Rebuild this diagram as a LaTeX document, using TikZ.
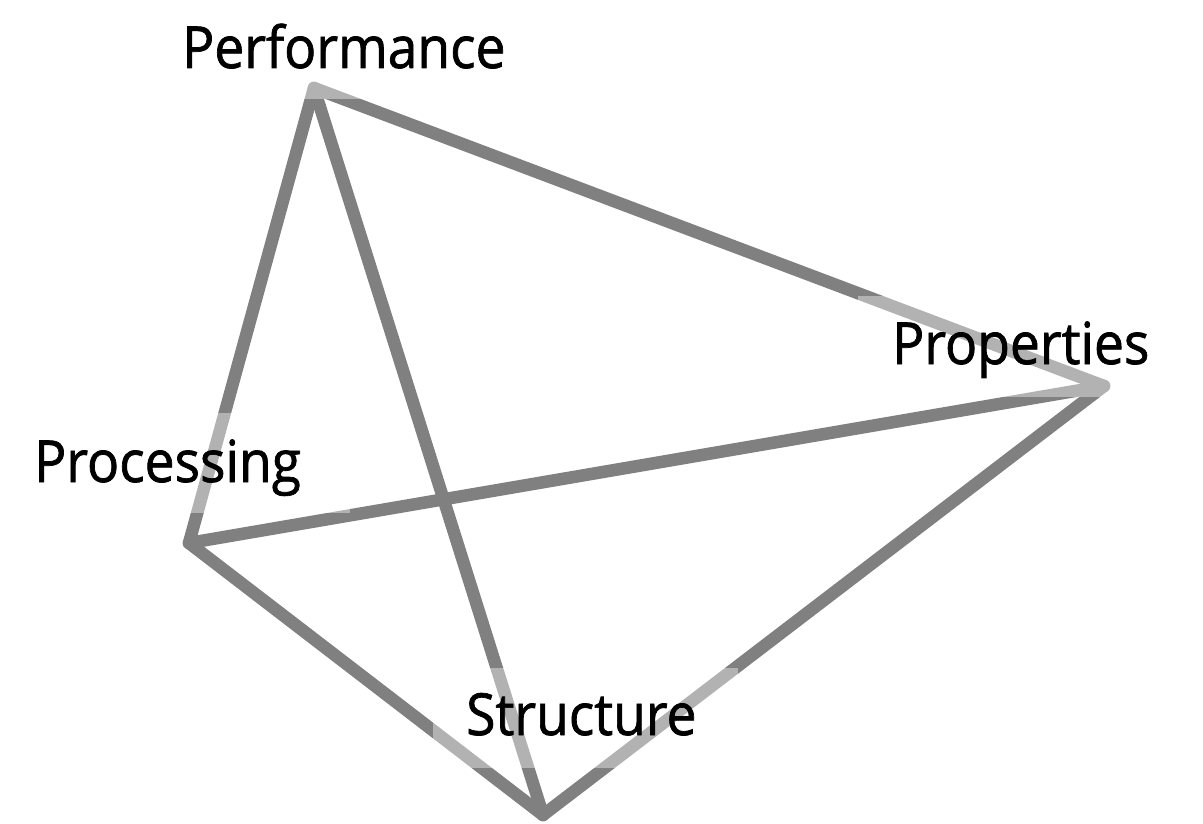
\documentclass[tikz,border=0pt]{standalone}
\usepackage{fontspec}
\setmainfont{Open Sans}[FakeStretch=0.92, FakeBold=1.2]
\definecolor{edgegray}{HTML}{808080}
\begin{document}
\begin{tikzpicture}[x=1pt,y=-1pt,
  edge/.style={draw=edgegray, line width=12.5pt, line cap=round, line join=round},
  veil/.style={fill=white, fill opacity=0.4, draw=none, inner sep=0pt, outer sep=0pt},
  lbl/.style={font=\fontsize{58}{60}\selectfont, text=black, inner sep=0pt, anchor=base west}]
\useasboundingbox (0,0) rectangle (1203,824);
\coordinate (perf) at (314,88);
\coordinate (prop) at (1104,386);
\coordinate (proc) at (189,543);
\coordinate (stru) at (543,815);
% edges
\draw[edge] (perf) -- (proc);
\draw[edge] (perf) -- (prop);
\draw[edge] (perf) -- (stru);
\draw[edge] (proc) -- (prop);
\draw[edge] (proc) -- (stru);
\draw[edge] (stru) -- (prop);
% translucent label backgrounds
\node[veil, minimum width=384pt, minimum height=100pt] (perfveil) at (340,49) {};
\node[veil, minimum width=324pt, minimum height=101pt] (propveil) at (1020,346.5) {};
\node[veil, minimum width=365pt, minimum height=100pt] (procveil) at (167.5,463) {};
\node[veil, minimum width=305pt, minimum height=100pt] (struveil) at (585.5,718) {};
% labels
\node[lbl] (perflbl) at (182,68) {Performance};
\node[lbl] (proplbl) at (892,364) {Properties};
\node[lbl] (proclbl) at (34,482) {Processing};
\node[lbl] (strulbl) at (466,735) {Structure};
\end{tikzpicture}
\end{document}
